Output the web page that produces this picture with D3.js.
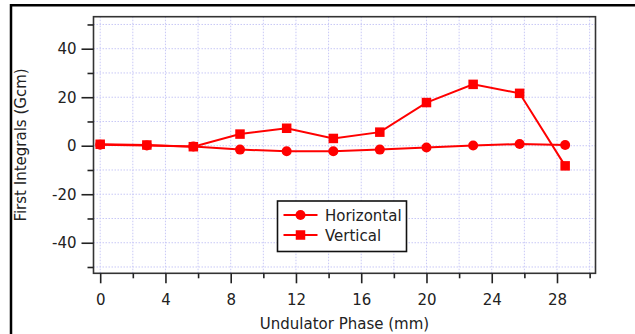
<!DOCTYPE html>
<html>
<head>
<meta charset="utf-8">
<script src="https://cdn.jsdelivr.net/npm/d3@7"></script>
<style>
  body { margin: 0; background: #fff; }
  svg { display: block; font-family: "DejaVu Sans", sans-serif; }
</style>
</head>
<body>
<div id="chart"></div>
<script>
// Data
const phase = [0, 2.86, 5.71, 8.57, 11.43, 14.29, 17.14, 20, 22.86, 25.71, 28.5];
const horizontal = [0.4, 0.1, -0.3, -1.6, -2.3, -2.3, -1.6, -0.7, 0.1, 0.7, 0.3];
const vertical = [0.6, 0.3, -0.4, 4.8, 7.2, 3.0, 5.6, 17.8, 25.3, 21.6, -8.3];
const xMajorTicks = [0, 4, 8, 12, 16, 20, 24, 28];
const xMinorTicks = [2, 6, 10, 14, 18, 22, 26, 30];
const yMajorTicks = [-40, -20, 0, 20, 40];
const yMinorTicks = [-50, -30, -10, 10, 30, 50];
const seriesNames = ["Horizontal", "Vertical"];

const width = 635, height = 334;
const plot = { left: 93.5, right: 595.5, top: 16.7, bottom: 273.3 };
const red = "#ff0000";

const svg = d3.select("#chart").append("svg")
  .attr("width", width)
  .attr("height", height);

// Page frame lines (table cell borders)
svg.append("line").attr("x1", 10).attr("x2", width).attr("y1", 5.2).attr("y2", 5.2)
  .attr("stroke", "#000").attr("stroke-width", 2.5);
svg.append("line").attr("x1", 11).attr("x2", 11).attr("y1", 4).attr("y2", height)
  .attr("stroke", "#000").attr("stroke-width", 2.5);

const x = d3.scaleLinear().domain([-0.41, 30.36]).range([plot.left, plot.right]);
const y = d3.scaleLinear().domain([-52.6, 53.2]).range([plot.bottom, plot.top]);
const plain = d => String(d); // hyphen minus like the reference

// Grid
const grid = svg.append("g").attr("class", "grid")
  .attr("stroke", "#c8c8f6").attr("stroke-width", 1).attr("stroke-dasharray", "1.5,1.5");
grid.selectAll("line.vx")
  .data(xMajorTicks.concat(xMinorTicks))
  .join("line").attr("class", "vx")
  .attr("x1", d => x(d)).attr("x2", d => x(d))
  .attr("y1", plot.top).attr("y2", plot.bottom);
grid.selectAll("line.hy")
  .data(yMajorTicks.concat(yMinorTicks))
  .join("line").attr("class", "hy")
  .attr("x1", plot.left).attr("x2", plot.right)
  .attr("y1", d => y(d)).attr("y2", d => y(d));

// Frame
svg.append("rect")
  .attr("x", plot.left).attr("y", plot.top)
  .attr("width", plot.right - plot.left).attr("height", plot.bottom - plot.top)
  .attr("fill", "none").attr("stroke", "#333").attr("stroke-width", 1.6);

// Y axis (ticks outside)
svg.append("g").attr("transform", `translate(${plot.left},0)`)
  .call(d3.axisLeft(y).tickValues(yMajorTicks).tickSize(12).tickPadding(5).tickFormat(plain))
  .call(g => g.select(".domain").remove())
  .call(g => g.selectAll(".tick line").attr("stroke", "#222").attr("stroke-width", 1.6))
  .call(g => g.selectAll(".tick text").attr("font-size", 15).attr("fill", "#222")
    .attr("font-family", "DejaVu Sans, sans-serif"));
svg.append("g").attr("transform", `translate(${plot.left},0)`)
  .call(d3.axisLeft(y).tickValues(yMinorTicks).tickSize(6).tickFormat(""))
  .call(g => g.select(".domain").remove())
  .call(g => g.selectAll(".tick line").attr("stroke", "#222").attr("stroke-width", 1.6));

// X axis (ticks below)
svg.append("g").attr("transform", `translate(0,${plot.bottom})`)
  .call(d3.axisBottom(x).tickValues(xMajorTicks).tickSize(10).tickPadding(11).tickFormat(plain))
  .call(g => g.select(".domain").remove())
  .call(g => g.selectAll(".tick line").attr("stroke", "#222").attr("stroke-width", 1.6))
  .call(g => g.selectAll(".tick text").attr("font-size", 15).attr("fill", "#222")
    .attr("font-family", "DejaVu Sans, sans-serif"));
svg.append("g").attr("transform", `translate(0,${plot.bottom})`)
  .call(d3.axisBottom(x).tickValues(xMinorTicks).tickSize(5).tickFormat(""))
  .call(g => g.select(".domain").remove())
  .call(g => g.selectAll(".tick line").attr("stroke", "#222").attr("stroke-width", 1.6));

// Axis titles
svg.append("text")
  .attr("x", (plot.left + plot.right) / 2).attr("y", 329)
  .attr("text-anchor", "middle").attr("font-size", 15).attr("fill", "#222")
  .text("Undulator Phase (mm)");
svg.append("text")
  .attr("transform", `translate(26,${(plot.top + plot.bottom) / 2}) rotate(-90)`)
  .attr("text-anchor", "middle").attr("font-size", 15).attr("fill", "#222")
  .text("First Integrals (Gcm)");

// Series
const line = d3.line().x(d => x(d[0])).y(d => y(d[1]));
const hData = phase.map((p, i) => [p, horizontal[i]]);
const vData = phase.map((p, i) => [p, vertical[i]]);

svg.append("path").datum(hData).attr("d", line)
  .attr("fill", "none").attr("stroke", red).attr("stroke-width", 2);
svg.append("path").datum(vData).attr("d", line)
  .attr("fill", "none").attr("stroke", red).attr("stroke-width", 2);

svg.selectAll("circle.h").data(hData).join("circle").attr("class", "h")
  .attr("cx", d => x(d[0])).attr("cy", d => y(d[1])).attr("r", 5).attr("fill", red);
const sq = 9.5;
svg.selectAll("rect.v").data(vData).join("rect").attr("class", "v")
  .attr("x", d => x(d[0]) - sq / 2).attr("y", d => y(d[1]) - sq / 2)
  .attr("width", sq).attr("height", sq).attr("fill", red);

// Legend
const legend = svg.append("g").attr("transform", "translate(277.5,201)");
legend.append("rect").attr("width", 129).attr("height", 50.5)
  .attr("fill", "#fff").attr("stroke", "#111").attr("stroke-width", 1.6);
seriesNames.forEach((name, i) => {
  const g = legend.append("g").attr("transform", `translate(0,${14 + i * 20})`);
  g.append("line").attr("x1", 6).attr("x2", 40).attr("y1", 0).attr("y2", 0)
    .attr("stroke", red).attr("stroke-width", 2);
  if (i === 0) {
    g.append("circle").attr("cx", 23).attr("cy", 0).attr("r", 5).attr("fill", red);
  } else {
    g.append("rect").attr("x", 23 - sq / 2).attr("y", -sq / 2).attr("width", sq).attr("height", sq).attr("fill", red);
  }
  g.append("text").attr("x", 47.5).attr("y", 5.5).attr("font-size", 15).attr("fill", "#222").text(name);
});
</script>
</body>
</html>
